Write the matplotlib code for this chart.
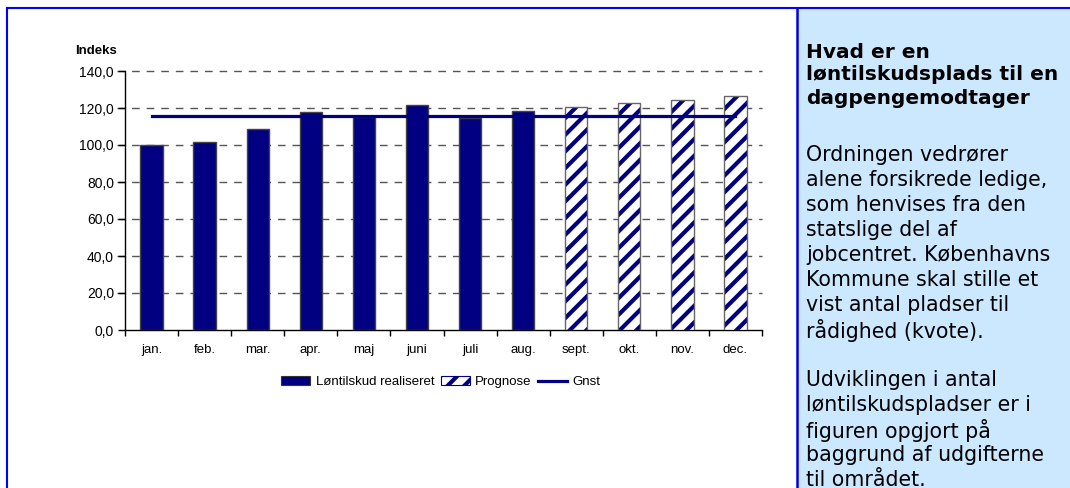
import numpy as np
import matplotlib
matplotlib.use("Agg")
import matplotlib.pyplot as plt
from matplotlib.patches import Rectangle, Patch
from matplotlib.lines import Line2D

# data
months = ["jan.", "feb.", "mar.", "apr.", "maj", "juni", "juli", "aug.",
          "sept.", "okt.", "nov.", "dec."]
realiseret = [100.0, 101.8, 108.5, 117.7, 115.3, 121.4, 114.6, 118.4]
prognose = [120.4, 122.5, 124.3, 126.3]
gnst = 115.5

title_lines = ["Hvad er en", "løntilskudsplads til en", "dagpengemodtager"]
body_lines = ["Ordningen vedrører", "alene forsikrede ledige,",
              "som henvises fra den", "statslige del af",
              "jobcentret. Københavns", "Kommune skal stille et",
              "vist antal pladser til", "rådighed (kvote).", "",
              "Udviklingen i antal", "løntilskudspladser er i",
              "figuren opgjort på", "baggrund af udgifterne",
              "til området."]

navy = "#000080"
W, H = 1070, 488

plt.rcParams["hatch.linewidth"] = 3.0

fig = plt.figure(figsize=(W / 100, H / 100), dpi=100)
fig.patch.set_facecolor("white")

# right info panel
fig.add_artist(Rectangle((797 / W, 0), (W - 797) / W, 1 - 9 / H,
                         transform=fig.transFigure, facecolor="#CCE8FF",
                         edgecolor="none", zorder=0))
fig.add_artist(Line2D([797 / W, 797 / W], [0, 1 - 9 / H],
                      transform=fig.transFigure, color="#0000DD", lw=1.8))
fig.add_artist(Line2D([7 / W, 1], [1 - 8 / H, 1 - 8 / H],
                      transform=fig.transFigure, color="#0000FF", lw=1.5))
fig.add_artist(Line2D([7 / W, 7 / W], [0, 1 - 8 / H],
                      transform=fig.transFigure, color="#0000FF", lw=1.5))

for i, line in enumerate(title_lines):
    fig.text(806 / W, 1 - (52 + i * 23) / H, line, fontsize=14.5,
             fontweight="bold", family="DejaVu Sans", va="center", ha="left")
for i, line in enumerate(body_lines):
    fig.text(806 / W, 1 - (155 + i * 25) / H, line, fontsize=14.8,
             family="DejaVu Sans", va="center", ha="left")

# chart
ax = fig.add_axes([125 / W, 1 - 330 / H, 637 / W, 259 / H])
x = np.arange(len(months))
n_real = len(realiseret)
ax.bar(x[:n_real], realiseret, width=0.42, color=navy, edgecolor="#444444",
       linewidth=1, zorder=3)
# hatch drawn in navy, then a grey outline on top
ax.bar(x[n_real:], prognose, width=0.42, color="white", edgecolor=navy,
       hatch="//", linewidth=0, zorder=3)
ax.bar(x[n_real:], prognose, width=0.42, fill=False, edgecolor="#666666",
       linewidth=1, zorder=3)
ax.plot(x, [gnst] * len(months), color=navy, lw=2.3, zorder=4)

ax.set_xlim(-0.5, len(months) - 0.5)
ax.set_ylim(0, 140)
ax.set_yticks(np.arange(0, 141, 20))
ax.set_yticklabels([f"{v:.1f}".replace(".", ",") for v in np.arange(0, 141, 20)],
                   fontsize=10, family="Liberation Sans")
ax.set_xticks(x)
ax.set_xticklabels(months, fontsize=9.5, family="Liberation Sans")
ax.set_xticks(np.arange(-0.5, len(months)), minor=True)
ax.tick_params(axis="x", which="major", length=0, pad=10)
ax.tick_params(axis="x", which="minor", length=4, width=1)
ax.tick_params(axis="y", length=5, width=1, pad=3)

for s in ["top", "right"]:
    ax.spines[s].set_visible(False)
for s in ["left", "bottom"]:
    ax.spines[s].set_linewidth(1)
    ax.spines[s].set_color("black")

for v in np.arange(20, 141, 20):
    ax.axhline(v, xmin=-8 / 637, xmax=1, color="#555555", lw=1,
               dashes=(5.5, 5), zorder=1, clip_on=False)

fig.text(75 / W, 1 - 51 / H, "Indeks", fontsize=9.5, fontweight="bold",
         family="Liberation Sans", va="center", ha="left")

handles = [Patch(facecolor=navy, edgecolor="#333333", lw=0.8),
           Patch(facecolor="white", edgecolor=navy, hatch="//", lw=0.8),
           Line2D([0], [0], color=navy, lw=2.3)]
fig.legend(handles, ["Løntilskud realiseret", "Prognose", "Gnst"],
           loc="center", bbox_to_anchor=(441 / W, 1 - 382 / H), ncol=3,
           frameon=False, prop={"family": "Liberation Sans", "size": 9.5},
           handlelength=2.2, handleheight=0.6, handletextpad=0.4,
           columnspacing=0.5)

fig.savefig("out.png", dpi=100)
